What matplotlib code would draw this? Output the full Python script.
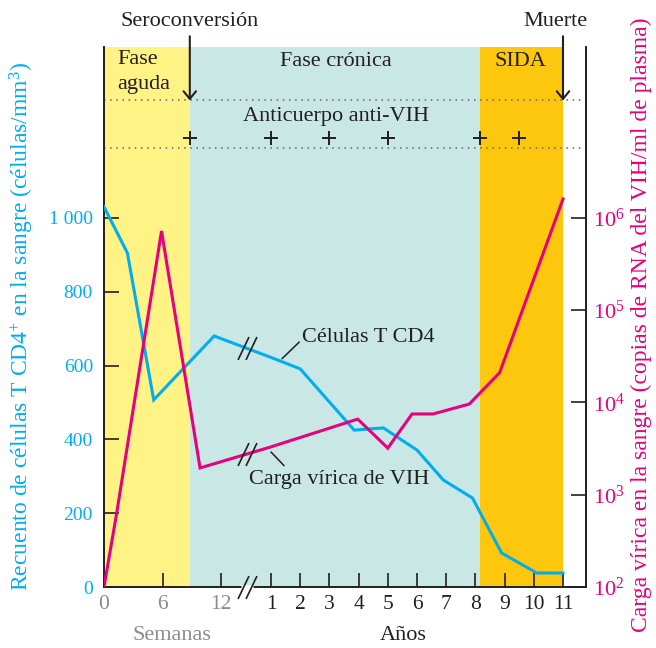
import numpy as np
import matplotlib.pyplot as plt
from matplotlib.path import Path

plt.rcParams['font.family'] = ['Liberation Serif', 'DejaVu Serif']
plt.rcParams['mathtext.fontset'] = 'custom'
plt.rcParams['mathtext.rm'] = 'Liberation Serif'
plt.rcParams['mathtext.it'] = 'Liberation Serif:italic'

# --- data (weeks for the first phase, years afterwards) ---
cd4_semanas = [0, 2.4, 5.1, 11.3]
cd4_sem_val = [1030, 905, 507, 680]
cd4_anos = [1, 2, 3.85, 4.85, 6, 6.9, 7.9, 8.9, 10.1, 11]
cd4_anos_val = [622, 591, 425, 431, 371, 290, 241, 92, 38, 38]

vih_semanas = [0, 1.3, 5.9, 9.85]
vih_sem_val = [100, 630, 7.2e5, 1950]
vih_anos = [1, 3.97, 5.0, 5.83, 6.55, 7.79, 8.83, 11.0]
vih_anos_val = [3300, 6600, 3200, 7500, 7500, 9600, 21000, 1.6e6]

fases = ['Fase\naguda', 'Fase crónica', 'SIDA']
fase_inicio = [0, 8.8 / 52, 8.17]
fase_fin = [8.8 / 52, 8.17, 11]
fase_color = ['#fff385', '#c9e7e4', '#fdc70e']

anticuerpo_t = [8.8 / 52, 1, 3, 5, 8.17, 9.5]
seroconversion_t = 8.8 / 52
muerte_t = 11

tick_t = [0, 6 / 52, 12 / 52] + list(range(1, 12))
tick_lbl = ['0', '6', '12'] + [str(i) for i in range(1, 12)]

left_ticks = [0, 200, 400, 600, 800, 1000]
left_lbls = ['0', '200', '400', '600', '800', '1 000']
right_ticks = [1e2, 1e3, 1e4, 1e5, 1e6]
right_lbls = [r'$10^{%d}$' % i for i in range(2, 7)]

CYAN = '#00aeef'
MAGENTA = '#e6007e'
DARK = '#231f20'
GRAY = '#8c8c8c'

cd4_t = np.r_[np.array(cd4_semanas) / 52, cd4_anos]
cd4_v = np.r_[cd4_sem_val, cd4_anos_val]
vih_t = np.r_[np.array(vih_semanas) / 52, vih_anos]
vih_v = np.r_[vih_sem_val, vih_anos_val]

# broken time axis: weeks stretched, then years
knots_t = np.array([-1, 0, 12 / 52, 1, 11, 20])
knots_p = np.array([104 - 52 * 9.75, 104, 221, 271, 563, 563 + 9 * 29.2])


def fwd(t):
    return np.interp(t, knots_t, knots_p)


def inv(p):
    return np.interp(p, knots_p, knots_t)


W, H = 656, 648
fig = plt.figure(figsize=(W / 100, H / 100), dpi=100)
ax = fig.add_axes([104 / W, 1 - 587 / H, 482 / W, 540 / H])
ax.set_xscale('function', functions=(fwd, inv))
ax.set_xlim(0, inv(586))
ax.set_ylim(0, 1463)

ax2 = ax.twinx()
ax2.set_yscale('log')
ax2.set_ylim(1e2, 10 ** (2 + 1463 / 250))

# phases
for a, b, c in zip(fase_inicio, fase_fin, fase_color):
    ax.axvspan(a, b, color=c, lw=0, zorder=0)

ax.axhline(1320, color='#6d6e71', lw=1.2, ls=(0, (0.9, 2.8)), zorder=1)
ax.axhline(1190, color='#6d6e71', lw=1.2, ls=(0, (0.9, 2.8)), zorder=1)
ax.plot(anticuerpo_t, [1217] * len(anticuerpo_t), ls='none', marker='+',
        ms=10, mew=1.4, color=DARK, zorder=3)

# lines
ax.plot(cd4_t, cd4_v, color=CYAN, lw=2.2, zorder=3, solid_joinstyle='miter')
ax2.plot(vih_t, vih_v, color=MAGENTA, lw=2.2, zorder=3, solid_joinstyle='miter')

# break marks
slash = Path([(-9.5, -11.5), (1.5, 11.5), (-1.5, -11.5), (9.5, 11.5)],
             [Path.MOVETO, Path.LINETO, Path.MOVETO, Path.LINETO])
gap = Path([(-6, -2), (6, -2), (6, 2), (-6, 2), (-6, -2)],
           [Path.MOVETO, Path.LINETO, Path.LINETO, Path.LINETO, Path.CLOSEPOLY])
t_break = inv(247)
y_cd4 = np.interp(fwd(t_break), fwd(cd4_t), cd4_v)
y_vih = 10 ** np.interp(fwd(t_break), fwd(vih_t), np.log10(vih_v))
ax.plot([t_break], [y_cd4], marker=slash, ms=16.5, mew=1.2, mec=DARK, ls='none', zorder=4)
ax2.plot([t_break], [y_vih], marker=slash, ms=16.5, mew=1.2, mec=DARK, ls='none', zorder=4)
ax2.plot([t_break], [0], marker=gap, ms=8.6, mfc='white', mec='none', ls='none',
         transform=ax2.get_xaxis_transform(), clip_on=False, zorder=5)
ax2.plot([t_break], [0], marker=slash, ms=16.5, mew=1.2, mec=DARK, ls='none',
         transform=ax2.get_xaxis_transform(), clip_on=False, zorder=6)

# arrows
for t in (seroconversion_t, muerte_t):
    ax.annotate('', xy=(t, 1318), xytext=(t, 1492), annotation_clip=False,
                arrowprops=dict(arrowstyle='->,head_length=0.55,head_width=0.45',
                                lw=1.5, color=DARK, shrinkA=0, shrinkB=0))

# labels on lines
t_a = inv(282)
ax.annotate('Células T CD4', xy=(t_a, np.interp(fwd(t_a), fwd(cd4_t), cd4_v) + 8),
            xytext=(inv(302), 676), ha='left', va='center', fontsize=16, color=DARK,
            arrowprops=dict(arrowstyle='-', lw=1.1, color=DARK, relpos=(0, 0.4),
                            shrinkA=0, shrinkB=0))
t_b = inv(271)
y_b = 10 ** np.interp(fwd(t_b), fwd(vih_t), np.log10(vih_v))
ax2.annotate('Carga vírica de VIH', xy=(t_b, y_b * 0.88), xytext=(inv(249), 290),
             textcoords=ax.transData, ha='left', va='center', fontsize=16, color=DARK,
             arrowprops=dict(arrowstyle='-', lw=1.1, color=DARK, relpos=(0.22, 1),
                             shrinkA=2, shrinkB=0))

# axes styling
for s in ('top', 'right'):
    ax.spines[s].set_visible(False)
for s in ('top', 'left', 'bottom'):
    ax2.spines[s].set_visible(False)
for s in (ax.spines['left'], ax.spines['bottom'], ax2.spines['right']):
    s.set_linewidth(1.4)
    s.set_color(DARK)

ax.set_xticks(tick_t)
ax.set_xticklabels(tick_lbl)
for lbl, t in zip(ax.get_xticklabels(), tick_t):
    lbl.set_color(GRAY if t < 1 else DARK)
ax.tick_params(axis='x', direction='in', length=10, width=1.2, color=DARK,
               labelsize=15.5, pad=6)

ax.set_yticks(left_ticks)
ax.set_yticklabels(left_lbls)
ax.tick_params(axis='y', direction='in', length=11, width=1.2, color=DARK,
               labelcolor=CYAN, labelsize=14, pad=8)

ax2.set_yticks(right_ticks)
ax2.set_yticklabels(right_lbls)
ax2.minorticks_off()
ax2.tick_params(axis='y', direction='in', length=11, width=1.2, color=DARK,
                labelcolor=MAGENTA, labelsize=16, pad=5)


def px(x, y):
    return x / W, 1 - y / H


fig.text(*px(117, 72), fases[0], fontsize=16, color=DARK, ha='left', va='center',
         linespacing=1.4)
fig.text(*px(336, 62), fases[1], fontsize=16, color=DARK, ha='center', va='center')
fig.text(*px(520, 62), fases[2], fontsize=16, color=DARK, ha='center', va='center')
fig.text(*px(336, 117), 'Anticuerpo anti-VIH', fontsize=16, color=DARK,
         ha='center', va='center')
fig.text(*px(190, 22), 'Seroconversión', fontsize=16, color=DARK, ha='center', va='center')
fig.text(*px(555, 22), 'Muerte', fontsize=16, color=DARK, ha='center', va='center')
fig.text(*px(172, 636), 'Semanas', fontsize=16, color=GRAY, ha='center', va='center')
fig.text(*px(403, 636), 'Años', fontsize=16, color=DARK, ha='center', va='center')
fig.text(*px(22, 326), r'Recuento de células T CD4$^{+}$ en la sangre (células/mm$^{3}$)',
         fontsize=17, color=CYAN, rotation=90, ha='center', va='center')
fig.text(*px(641, 325), 'Carga vírica en la sangre (copias de RNA del VIH/ml de plasma)',
         fontsize=17, color=MAGENTA, rotation=90, ha='center', va='center')

fig.savefig('out.png', dpi=100)
